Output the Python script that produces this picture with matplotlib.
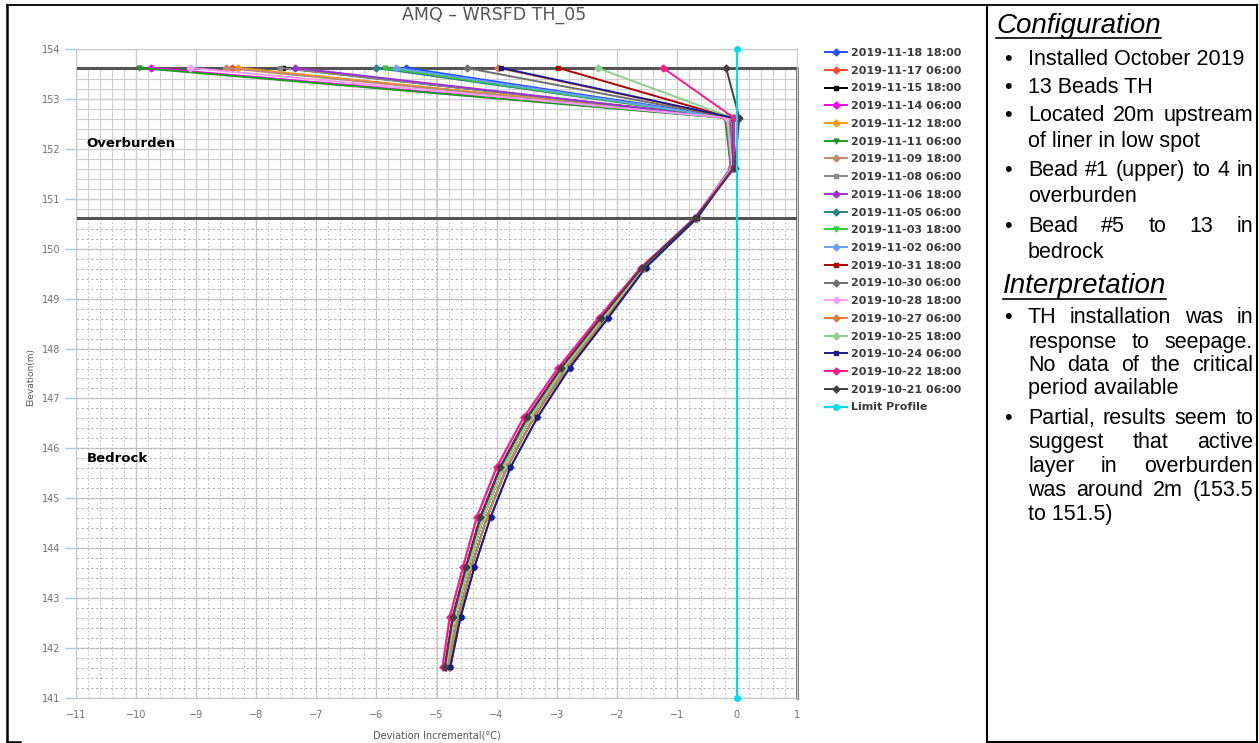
import matplotlib
matplotlib.use('Agg')
import matplotlib.pyplot as plt
import numpy as np
from matplotlib.lines import Line2D

W, H = 1259, 743

# ---------------- data ----------------
elevation = [153.62, 152.62, 151.62, 150.62, 149.62, 148.62, 147.62,
             146.62, 145.62, 144.62, 143.62, 142.62, 141.62]

series_labels = ['2019-11-18 18:00', '2019-11-17 06:00', '2019-11-15 18:00',
                 '2019-11-14 06:00', '2019-11-12 18:00', '2019-11-11 06:00',
                 '2019-11-09 18:00', '2019-11-08 06:00', '2019-11-06 18:00',
                 '2019-11-05 06:00', '2019-11-03 18:00', '2019-11-02 06:00',
                 '2019-10-31 18:00', '2019-10-30 06:00', '2019-10-28 18:00',
                 '2019-10-27 06:00', '2019-10-25 18:00', '2019-10-24 06:00',
                 '2019-10-22 18:00', '2019-10-21 06:00']

d_1118 = [-5.50, -0.05, -0.06, -0.66, -1.52, -2.14, -2.78, -3.32, -3.77, -4.10, -4.37, -4.60, -4.77]
d_1117 = [-8.40, -0.15, -0.08, -0.68, -1.56, -2.22, -2.88, -3.44, -3.89, -4.22, -4.47, -4.69, -4.84]
d_1115 = [-7.55, -0.12, -0.07, -0.67, -1.54, -2.18, -2.83, -3.38, -3.83, -4.16, -4.42, -4.64, -4.80]
d_1114 = [-9.75, -0.18, -0.10, -0.70, -1.60, -2.30, -2.97, -3.55, -4.00, -4.33, -4.56, -4.78, -4.90]
d_1112 = [-8.30, -0.16, -0.09, -0.68, -1.56, -2.22, -2.88, -3.44, -3.89, -4.22, -4.47, -4.69, -4.84]
d_1111 = [-9.95, -0.20, -0.10, -0.67, -1.54, -2.18, -2.83, -3.38, -3.83, -4.16, -4.42, -4.64, -4.80]
d_1109 = [-8.50, -0.17, -0.09, -0.69, -1.58, -2.26, -2.92, -3.49, -3.94, -4.27, -4.51, -4.73, -4.86]
d_1108 = [-7.60, -0.14, -0.08, -0.68, -1.56, -2.22, -2.88, -3.44, -3.89, -4.22, -4.47, -4.69, -4.84]
d_1106 = [-7.35, -0.15, -0.09, -0.69, -1.58, -2.26, -2.92, -3.49, -3.94, -4.27, -4.51, -4.73, -4.86]
d_1105 = [-6.00, -0.13, -0.07, -0.67, -1.54, -2.18, -2.83, -3.38, -3.83, -4.16, -4.42, -4.64, -4.80]
d_1103 = [-5.85, -0.12, -0.07, -0.68, -1.56, -2.22, -2.88, -3.44, -3.89, -4.22, -4.47, -4.69, -4.84]
d_1102 = [-5.68, -0.11, -0.07, -0.67, -1.54, -2.18, -2.83, -3.38, -3.83, -4.16, -4.42, -4.64, -4.80]
d_1031 = [-2.97, -0.10, -0.06, -0.69, -1.58, -2.26, -2.92, -3.49, -3.94, -4.27, -4.51, -4.73, -4.86]
d_1030 = [-4.50, -0.10, -0.06, -0.68, -1.56, -2.22, -2.88, -3.44, -3.89, -4.22, -4.47, -4.69, -4.84]
d_1028 = [-9.10, -0.16, -0.08, -0.70, -1.60, -2.30, -2.97, -3.55, -4.00, -4.33, -4.56, -4.78, -4.90]
d_1027 = [-3.97, -0.08, -0.06, -0.67, -1.54, -2.18, -2.83, -3.38, -3.83, -4.16, -4.42, -4.64, -4.80]
d_1025 = [-2.32, -0.07, -0.05, -0.68, -1.56, -2.22, -2.88, -3.44, -3.89, -4.22, -4.47, -4.69, -4.84]
d_1024 = [-3.92, -0.06, -0.06, -0.66, -1.52, -2.14, -2.78, -3.32, -3.77, -4.10, -4.37, -4.60, -4.77]
d_1022 = [-1.23, -0.05, -0.05, -0.70, -1.60, -2.30, -2.97, -3.55, -4.00, -4.33, -4.56, -4.78, -4.90]
d_1021 = [-0.18, 0.04, -0.04, -0.69, -1.58, -2.26, -2.92, -3.49, -3.94, -4.27, -4.51, -4.73, -4.86]

series_values = [d_1118, d_1117, d_1115, d_1114, d_1112, d_1111, d_1109, d_1108,
                 d_1106, d_1105, d_1103, d_1102, d_1031, d_1030, d_1028, d_1027,
                 d_1025, d_1024, d_1022, d_1021]

limit_label = 'Limit Profile'
limit_x = [0, 0]
limit_y = [154, 141]

overburden_top = 153.62
overburden_bottom = 150.62

x_ticks = list(range(-11, 2))
y_ticks = list(range(141, 155))

# ---------------- styles ----------------
series_colors = ['#2050ff', '#ff4a2a', '#000000', '#ff00ff', '#ff9a1a', '#1f9a1f',
                 '#c08a6a', '#8a8a8a', '#9933cc', '#2a8585', '#33cc33', '#6aa0ff',
                 '#b00000', '#707070', '#ff9cff', '#e07a3a', '#8fcf8f', '#1a1a8f',
                 '#ff1a8c', '#404040']
series_markers = ['D', 'D', 's', 'D', 'D', 'v', 'D', 's', 'D', 'D',
                  'v', 'D', 's', 'D', 'D', 'D', 'D', 's', 'D', 'D']

fig = plt.figure(figsize=(W / 100, H / 100), dpi=100)
fx = lambda x: x / W
fy = lambda y: 1 - y / H

ax = fig.add_axes([fx(76), fy(698), fx(797) - fx(76), fy(49) - fy(698)])
ax.set_xlim(-11, 1)
ax.set_ylim(141, 154)

# grids
ax.set_xticks(x_ticks)
ax.set_yticks(y_ticks)
ax.grid(which='major', color='#cdcdcd', lw=1.0, zorder=0)
ax.set_axisbelow(True)
xs_minor = np.arange(-11, 1.001, 0.2)
ys_ob = np.arange(150.8, 153.61, 0.2)
ys_br = np.arange(141.2, 150.61, 0.2)
ax.vlines(xs_minor, overburden_bottom, overburden_top, color='#cfcfcf', lw=0.8, zorder=0.6)
ax.hlines(ys_ob, -11, 1, color='#cfcfcf', lw=0.8, zorder=0.6)
ax.vlines(xs_minor, 141, overburden_bottom, color='#b5b5b5', lw=0.7,
          linestyles=[(0, (1.5, 2.5))], zorder=0.6)
ax.hlines(ys_br, -11, 1, color='#b5b5b5', lw=0.7,
          linestyles=[(0, (2.5, 2.5))], zorder=0.6)

# overburden box
ax.plot([-11, 1], [overburden_top, overburden_top], color='#555555', lw=2.2, zorder=1.5)
ax.plot([-11, 1], [overburden_bottom, overburden_bottom], color='#555555', lw=2.2, zorder=1.5)
ax.plot([1, 1], [141, overburden_top], color='#555555', lw=1.8, zorder=1.5, clip_on=False)

for vals, lab, col, mk in zip(series_values, series_labels, series_colors, series_markers):
    ax.plot(vals, elevation, color=col, lw=1.4, marker=mk, ms=3.5,
            label=lab, zorder=3)
ax.plot(limit_x, limit_y, color='#00dcf5', lw=1.6, marker='o', ms=4,
        label=limit_label, zorder=4, clip_on=False)

for s in ['left', 'bottom', 'top']:
    ax.spines[s].set_color('#c8c8c8')
ax.spines['right'].set_color('#d0d0d0')

ax.tick_params(axis='y', direction='out', length=8, color='#a9c8e8', width=1,
               labelsize=7, labelcolor='#707070', pad=3)
ax.tick_params(axis='x', length=0, labelsize=7, labelcolor='#707070', pad=9)

ax.text(-10.82, 152.1, 'Overburden', fontsize=9.5, fontweight='bold', va='center', ha='left', zorder=5)
ax.text(-10.82, 145.8, 'Bedrock', fontsize=9.5, fontweight='bold', va='center', ha='left', zorder=5)

fig.text(fx(494), fy(15), 'AMQ – WRSFD TH_05', fontsize=12.5, color='#555555',
         ha='center', va='center')
fig.text(fx(31), fy(377), 'Elevation(m)', fontsize=6.5, color='#555555',
         rotation=90, ha='center', va='center')
fig.text(fx(437), fy(735), 'Deviation Incremental(°C)', fontsize=7, color='#555555',
         ha='center', va='center')

leg = ax.legend(loc='upper left', bbox_to_anchor=(fx(825), fy(48)),
                bbox_transform=fig.transFigure, frameon=False, borderpad=0,
                borderaxespad=0, handlelength=2.0, handletextpad=0.3,
                labelspacing=0.695, prop={'size': 8, 'weight': 'bold'})
for t in leg.get_texts():
    t.set_color('#3a3a3a')

# ---------------- frame lines ----------------
def fline(x0, y0, x1, y1, lw):
    fig.add_artist(Line2D([fx(x0), fx(x1)], [fy(y0), fy(y1)], color='black',
                          lw=lw, transform=fig.transFigure))

fline(7, 5, 1257, 5, 1.3)
fline(7, 5, 7, 742, 1.8)
fline(7, 742, 20, 742, 1.8)
fline(987, 5, 987, 742, 1.5)
fline(1257, 5, 1257, 742, 1.5)
fline(987, 742, 1257, 742, 1.5)

# ---------------- right panel text ----------------
renderer = fig.canvas.get_renderer()
body = dict(fontsize=15.5, family='Liberation Sans', color='black')

def heading(txt, x, y_base, y_ul):
    t = fig.text(fx(x), fy(y_base), txt, fontsize=20, style='italic',
                 family='Liberation Sans', va='baseline', ha='left')
    bb = t.get_window_extent(renderer)
    fig.add_artist(Line2D([fx(x), fx(x + bb.width)], [fy(y_ul), fy(y_ul)],
                          color='black', lw=1.2, transform=fig.transFigure))

def put_line(txt, y, x0, x1, justify):
    if not justify:
        fig.text(fx(x0), fy(y), txt, va='baseline', ha='left', **body)
        return
    words = txt.split()
    ts = [fig.text(0, 0, w, va='baseline', ha='left', **body) for w in words]
    widths = [t.get_window_extent(renderer).width for t in ts]
    gap = (x1 - x0 - sum(widths)) / (len(words) - 1)
    x = x0
    for t, w in zip(ts, widths):
        t.set_position((fx(x), fy(y)))
        x += w + gap

def bullet(y):
    fig.text(fx(1004), fy(y), '•', va='baseline', ha='left', **body)

X0, X1 = 1028, 1253
heading('Configuration', 996, 33, 38)
config_lines = [
    ('Installed October 2019', 65, True, False),
    ('13 Beads TH', 93, True, False),
    ('Located 20m upstream', 121, True, True),
    ('of liner in low spot', 147, False, False),
    ('Bead #1 (upper) to 4 in', 176, True, True),
    ('overburden', 202, False, False),
    ('Bead #5 to 13 in', 232, True, True),
    ('bedrock', 258, False, False),
]
for txt, y, b, j in config_lines:
    if b:
        bullet(y)
    put_line(txt, y, X0, X1, j)

heading('Interpretation', 1003, 293, 299)
interp_lines = [
    ('TH installation was in', 323, True, True),
    ('response to seepage.', 348, False, True),
    ('No data of the critical', 371, False, True),
    ('period available', 394, False, False),
    ('Partial, results seem to', 424, True, True),
    ('suggest that active', 448, False, True),
    ('layer in overburden', 472, False, True),
    ('was around 2m (153.5', 496, False, True),
    ('to 151.5)', 520, False, False),
]
for txt, y, b, j in interp_lines:
    if b:
        bullet(y)
    put_line(txt, y, X0, X1, j)

fig.savefig('out.png', dpi=100)
